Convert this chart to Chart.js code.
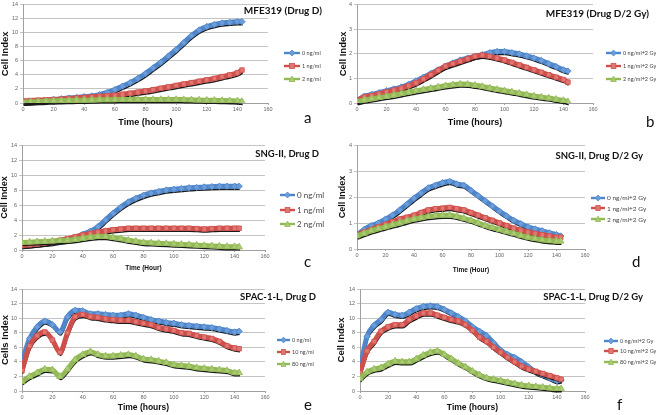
<!DOCTYPE html>
<html>
<head>
<meta charset="utf-8">
<script src="https://cdn.jsdelivr.net/npm/chart.js@4.4.1/dist/chart.umd.min.js"></script>
<style>
    body { margin: 0; background: #fff; font-family: Lato, 'Open Sans', sans-serif; }
    #fig { position: relative; width: 656px; height: 415px; overflow: hidden; }
    #fig canvas { position: absolute; }
    .ttl { position: absolute; font-weight: bold; color: #111; white-space: nowrap; }
    .lg-row { position: absolute; display: flex; align-items: center; color: #444; white-space: nowrap; }
    .lg-row svg { margin-right: 2px; }
    .tag { position: absolute; font-size: 15px; color: #111; line-height: 1; }
</style>
</head>
<body>
<div id="fig"></div>
<script>
// time points (hours)
const hours = [0, 5, 10, 15, 20, 25, 30, 35, 40, 45, 50, 55, 60, 65, 70, 75, 80, 85, 90, 95, 100, 105, 110, 115, 120, 125, 130, 135, 140, 143];

// a: MFE319 (Drug D)
const mfeD0 = [0.1, 0.2, 0.3, 0.4, 0.5, 0.6, 0.7, 0.8, 0.9, 1.0, 1.2, 1.5, 1.9, 2.4, 2.9, 3.5, 4.2, 5.0, 5.8, 6.7, 7.6, 8.6, 9.6, 10.4, 10.9, 11.2, 11.4, 11.5, 11.6, 11.6];
const mfeD1 = [0.3, 0.35, 0.4, 0.45, 0.5, 0.55, 0.65, 0.72, 0.8, 0.88, 0.95, 1.03, 1.1, 1.25, 1.4, 1.55, 1.7, 1.9, 2.1, 2.3, 2.5, 2.7, 2.9, 3.1, 3.3, 3.5, 3.75, 4.0, 4.3, 4.7];
const mfeD2 = [0.1, 0.15, 0.2, 0.25, 0.3, 0.32, 0.35, 0.38, 0.4, 0.42, 0.45, 0.47, 0.48, 0.5, 0.5, 0.5, 0.5, 0.5, 0.5, 0.5, 0.5, 0.48, 0.45, 0.42, 0.4, 0.38, 0.35, 0.32, 0.3, 0.2];

// b: MFE319 (Drug D/2 Gy)
const mfeR0 = [0.1, 0.28, 0.35, 0.42, 0.5, 0.57, 0.65, 0.76, 0.9, 1.05, 1.2, 1.35, 1.5, 1.63, 1.75, 1.83, 1.9, 1.97, 2.05, 2.1, 2.1, 2.05, 2.0, 1.92, 1.83, 1.73, 1.6, 1.48, 1.35, 1.3];
const mfeR1 = [0.1, 0.25, 0.3, 0.37, 0.45, 0.52, 0.6, 0.7, 0.82, 0.98, 1.15, 1.33, 1.5, 1.6, 1.7, 1.8, 1.9, 1.95, 1.9, 1.83, 1.75, 1.65, 1.55, 1.45, 1.35, 1.25, 1.15, 1.05, 0.95, 0.85];
const mfeR2 = [0.05, 0.12, 0.17, 0.22, 0.27, 0.32, 0.38, 0.44, 0.5, 0.55, 0.6, 0.65, 0.7, 0.74, 0.77, 0.76, 0.72, 0.67, 0.61, 0.55, 0.5, 0.45, 0.4, 0.34, 0.28, 0.24, 0.2, 0.15, 0.1, 0.05];

// c: SNG-II, Drug D
const sngD0 = [0.6, 0.7, 0.8, 0.9, 1.0, 1.15, 1.35, 1.65, 2.1, 2.5, 3.1, 4.0, 4.9, 5.7, 6.4, 6.9, 7.3, 7.6, 7.8, 8.0, 8.1, 8.2, 8.3, 8.35, 8.4, 8.45, 8.5, 8.5, 8.5, 8.5];
const sngD1 = [0.6, 0.7, 0.8, 0.95, 1.1, 1.3, 1.5, 1.75, 2.0, 2.2, 2.4, 2.55, 2.7, 2.8, 2.9, 2.9, 2.9, 2.9, 2.9, 2.9, 2.9, 2.9, 2.9, 2.85, 2.8, 2.85, 2.9, 2.9, 2.9, 2.9];
const sngD2 = [1.0, 1.05, 1.1, 1.15, 1.2, 1.25, 1.3, 1.4, 1.55, 1.7, 1.8, 1.8, 1.65, 1.5, 1.3, 1.15, 1.0, 0.95, 0.9, 0.85, 0.8, 0.75, 0.7, 0.65, 0.6, 0.55, 0.5, 0.45, 0.45, 0.4];

// d: SNG-II, Drug D/2 Gy
const sngR0 = [0.55, 0.75, 0.9, 1.0, 1.15, 1.3, 1.5, 1.72, 1.95, 2.15, 2.35, 2.45, 2.55, 2.6, 2.5, 2.45, 2.25, 2.05, 1.85, 1.65, 1.45, 1.27, 1.1, 0.97, 0.85, 0.77, 0.7, 0.62, 0.55, 0.5];
const sngR1 = [0.55, 0.65, 0.75, 0.85, 0.95, 1.05, 1.15, 1.22, 1.3, 1.4, 1.5, 1.55, 1.57, 1.6, 1.55, 1.5, 1.4, 1.3, 1.2, 1.1, 1.0, 0.9, 0.8, 0.72, 0.65, 0.6, 0.55, 0.5, 0.45, 0.45];
const sngR2 = [0.5, 0.6, 0.7, 0.78, 0.85, 0.93, 1.0, 1.08, 1.15, 1.2, 1.25, 1.28, 1.3, 1.3, 1.25, 1.18, 1.1, 1.0, 0.9, 0.82, 0.75, 0.67, 0.6, 0.52, 0.45, 0.4, 0.35, 0.32, 0.3, 0.3];

// e: SPAC-1-L, Drug D
const spacD0 = [4.0, 7.2, 8.8, 9.6, 9.1, 8.1, 10.2, 11.1, 11.0, 10.6, 10.6, 10.5, 10.4, 10.4, 10.6, 10.4, 10.1, 9.8, 9.6, 9.4, 9.3, 9.1, 9.0, 8.9, 8.8, 8.7, 8.5, 8.3, 8.1, 8.2];
const spacD1 = [2.8, 6.2, 7.6, 8.1, 7.0, 5.3, 8.0, 10.2, 10.5, 10.2, 10.1, 9.9, 9.8, 9.7, 9.7, 9.5, 9.3, 9.1, 8.7, 8.5, 8.3, 8.0, 7.9, 7.6, 7.4, 7.2, 6.8, 6.2, 5.9, 5.8];
const spacD2 = [1.3, 2.0, 2.5, 3.0, 2.9, 2.0, 3.0, 4.3, 5.0, 5.4, 5.0, 4.8, 4.8, 4.9, 5.0, 4.8, 4.4, 4.3, 4.1, 3.9, 3.6, 3.5, 3.4, 3.2, 3.1, 3.0, 2.9, 2.8, 2.5, 2.5];

// f: SPAC-1-L, Drug D/2 Gy
const spacR0 = [3.0, 7.5, 9.0, 9.8, 10.8, 10.5, 10.4, 10.8, 11.3, 11.6, 11.7, 11.6, 11.2, 10.7, 10.2, 9.6, 8.8, 8.2, 7.6, 6.6, 5.6, 5.0, 4.6, 4.0, 3.3, 2.6, 2.2, 1.8, 1.4, 1.5];
const spacR1 = [2.5, 5.5, 6.8, 8.2, 8.8, 9.1, 9.1, 9.8, 10.3, 10.7, 10.7, 10.4, 10.1, 9.8, 9.6, 9.1, 8.3, 7.4, 6.8, 6.0, 5.3, 4.6, 4.0, 3.4, 3.0, 2.7, 2.4, 2.1, 1.8, 1.6];
const spacR2 = [1.7, 2.6, 3.0, 3.2, 3.7, 4.1, 4.0, 4.0, 4.4, 4.9, 5.3, 5.5, 5.0, 4.4, 3.8, 3.3, 2.7, 2.2, 1.8, 1.6, 1.4, 1.2, 1.0, 0.8, 0.7, 0.6, 0.5, 0.4, 0.3, 0.3];

// legend labels
const doseLabels = ['0 ng/ml', '1 ng/ml', '2 ng/ml'];
const doseIrrLabels = ['0 ng/ml+2 Gy', '1 ng/ml+2 Gy', '2 ng/ml+2 Gy'];
const spacLabels = ['0 ng/ml', '10 ng/ml', '80 ng/ml'];
const spacIrrLabels = ['0 ng/ml+2 Gy', '10 ng/ml+2 Gy', '80 ng/ml+2 Gy'];

const styles = [
    { line: '#4f86c9', fill: '#6c9ddb', shape: 'rectRot' },
    { line: '#cf4f4b', fill: '#e07773', shape: 'rect' },
    { line: '#93b957', fill: '#a9cb72', shape: 'triangle' }
];

// layout of each panel (page pixels)
const panels = [
    { box: [0, 0, 328, 135], plot: [23, 1, 268, 103], yMax: 14, yStep: 2, yTitle: 'Cell Index', yTitleX: 5, xTitle: 'Time (hours)', xTitleY: 122.5, xSize: 9,
      series: [mfeD0, mfeD1, mfeD2], labels: doseLabels, title: 'MFE319 (Drug D)', titleRight: 322, titleY: 10, titleSize: 10,
      legend: { x: 284, y: 52.7, gap: 13.2, size: 5.5, len: 16 }, tag: ['a', 308, 118] },
    { box: [328, 0, 328, 135], plot: [357, 1, 593, 103], yMax: 4, yStep: 1, yTitle: 'Cell Index', yTitleX: 343, xTitle: 'Time (hours)', xTitleY: 122.5, xSize: 9,
      series: [mfeR0, mfeR1, mfeR2], labels: doseIrrLabels, title: 'MFE319 (Drug D/2 Gy)', titleRight: 649, titleY: 13, titleSize: 10,
      legend: { x: 606, y: 52.7, gap: 13, size: 5.5, len: 15 }, tag: ['b', 650, 122] },
    { box: [0, 135, 328, 140], plot: [22, 145, 265, 250], yMax: 14, yStep: 2, yTitle: 'Cell Index', yTitleX: 5, xTitle: 'Time (Hour)', xTitleY: 268, xSize: 6.5,
      series: [sngD0, sngD1, sngD2], labels: doseLabels, title: 'SNG-II, Drug D', titleRight: 319, titleY: 154, titleSize: 9.5,
      legend: { x: 280, y: 195, gap: 14.5, size: 8, len: 15 }, tag: ['c', 308, 262] },
    { box: [328, 135, 328, 140], plot: [357, 145, 585, 249], yMax: 4, yStep: 1, yTitle: 'Cell Index', yTitleX: 343, xTitle: 'Time (Hour)', xTitleY: 270, xSize: 6.5,
      series: [sngR0, sngR1, sngR2], labels: doseIrrLabels, title: 'SNG-II, Drug D/2 Gy', titleRight: 643, titleY: 155.5, titleSize: 9.5,
      legend: { x: 591, y: 197.7, gap: 10.7, size: 6.5, len: 14 }, tag: ['d', 636, 262] },
    { box: [0, 275, 328, 140], plot: [22, 289, 265, 391], yMax: 14, yStep: 2, yTitle: 'Cells Index', yTitleX: 5, xTitle: 'Time (hours)', xTitleY: 408, xSize: 8.5,
      series: [spacD0, spacD1, spacD2], labels: spacLabels, title: 'SPAC-1-L, Drug D', titleRight: 316, titleY: 297, titleSize: 9.5,
      legend: { x: 277, y: 340, gap: 12, size: 5.5, len: 13 }, tag: ['e', 308, 405] },
    { box: [328, 275, 328, 140], plot: [360, 289, 585, 391], yMax: 14, yStep: 2, yTitle: 'Cell Index', yTitleX: 341, xTitle: 'Time (hours)', xTitleY: 408, xSize: 8.5,
      series: [spacR0, spacR1, spacR2], labels: spacIrrLabels, title: 'SPAC-1-L, Drug D/2 Gy', titleRight: 643, titleY: 297, titleSize: 9.5,
      legend: { x: 604, y: 340.7, gap: 10.5, size: 5.5, len: 14 }, tag: ['f', 621, 405] }
];

// dark trace under each band (Excel marker shadow look)
const shadowLine = {
    id: 'shadowLine',
    beforeDatasetDraw(chart, args) {
        const line = args.meta.dataset;
        const ctx = chart.ctx;
        const a = chart.chartArea;
        ctx.save();
        ctx.beginPath();
        ctx.rect(a.left, a.top, a.right - a.left, a.bottom - a.top + 4);
        ctx.clip();
        ctx.translate(0.7, 3);
        ctx.strokeStyle = '#1a1a1a';
        ctx.lineWidth = 1.5;
        ctx.beginPath();
        line.path(ctx);
        ctx.stroke();
        ctx.restore();
    }
};

function markerSvg(s) {
    let m;
    if (s.shape === 'rectRot') m = `<polygon points="8,1 11,4 8,7 5,4" fill="${s.fill}" stroke="${s.line}" stroke-width="0.8"/>`;
    else if (s.shape === 'rect') m = `<rect x="5.5" y="1.5" width="5" height="5" fill="${s.fill}" stroke="${s.line}" stroke-width="0.8"/>`;
    else m = `<polygon points="8,1 11,6.5 5,6.5" fill="${s.fill}" stroke="${s.line}" stroke-width="0.8"/>`;
    return m;
}

function makePanel(p) {
    const fig = document.getElementById('fig');
    const [bx, by, bw, bh] = p.box;
    const [pl, pt, pr, pb] = p.plot;

    const cv = document.createElement('canvas');
    cv.width = bw;
    cv.height = bh;
    cv.style.left = bx + 'px';
    cv.style.top = by + 'px';
    fig.appendChild(cv);

    const ySize = p.xSize > 8 ? 9.5 : 9;
    const padLeft = p.yTitleX - bx - ySize * 0.6;
    const yWidth = pl - bx - padLeft;
    const xHeight = by + bh - pb;
    const xTitlePad = by + bh - p.xTitleY - p.xSize * 0.6;

    new Chart(cv, {
        type: 'line',
        data: {
            datasets: p.series.map((vals, i) => ({
                label: p.labels[i],
                data: vals.map((v, k) => ({ x: hours[k], y: v })),
                borderColor: styles[i].line,
                backgroundColor: styles[i].fill,
                borderWidth: 5,
                cubicInterpolationMode: 'monotone',
                pointStyle: styles[i].shape,
                pointRadius: i === 2 ? 3.8 : 3.2,
                pointBackgroundColor: styles[i].fill,
                pointBorderColor: styles[i].line,
                pointBorderWidth: 0.8,
                order: 2 - i
            }))
        },
        options: {
            responsive: false,
            animation: false,
            devicePixelRatio: 1,
            layout: { padding: { left: padLeft, right: bx + bw - pr, top: pt - by, bottom: 0 } },
            plugins: { legend: { display: false }, tooltip: { enabled: false } },
            scales: {
                x: {
                    type: 'linear',
                    min: 0,
                    max: 160,
                    ticks: { stepSize: 20, maxRotation: 0, autoSkip: false, color: '#666', font: { size: 5.5 }, padding: 1 },
                    grid: { drawOnChartArea: false, tickLength: 2, color: '#a0a0a0' },
                    border: { color: '#a0a0a0' },
                    title: { display: true, text: p.xTitle, color: '#111', font: { size: p.xSize, weight: 'bold' }, padding: { top: 0, bottom: xTitlePad } },
                    afterFit(s) { s.height = xHeight; s.paddingLeft = 0; s.paddingRight = 0; }
                },
                y: {
                    min: 0,
                    max: p.yMax,
                    ticks: { stepSize: p.yStep, color: '#666', font: { size: 5.5 }, padding: 2 },
                    grid: { color: '#c4c4c4', tickLength: 3 },
                    border: { color: '#a0a0a0' },
                    title: { display: true, text: p.yTitle, color: '#111', font: { size: ySize, weight: 'bold' }, padding: 0 },
                    afterFit(s) { s.width = yWidth; s.paddingTop = 0; s.paddingBottom = 0; }
                }
            }
        },
        plugins: [shadowLine]
    });

    // chart title
    const t = document.createElement('div');
    t.className = 'ttl';
    t.textContent = p.title;
    t.style.fontSize = p.titleSize + 'px';
    t.style.lineHeight = '1';
    t.style.right = (656 - p.titleRight) + 'px';
    t.style.top = (p.titleY - p.titleSize / 2) + 'px';
    fig.appendChild(t);

    // legend
    const lg = p.legend;
    p.labels.forEach((lab, i) => {
        const s = styles[i];
        const row = document.createElement('div');
        row.className = 'lg-row';
        row.style.left = lg.x + 'px';
        row.style.top = (lg.y + i * lg.gap - 4) + 'px';
        row.style.height = '8px';
        row.style.fontSize = lg.size + 'px';
        row.innerHTML = `<svg width="${lg.len}" height="8" viewBox="0 0 16 8" preserveAspectRatio="none">
                <line x1="0" y1="4" x2="16" y2="4" stroke="${s.line}" stroke-width="2.4"/>${markerSvg(s)}</svg><span>${lab}</span>`;
        fig.appendChild(row);
    });

    // panel letter
    const tag = document.createElement('div');
    tag.className = 'tag';
    tag.textContent = p.tag[0];
    tag.style.left = (p.tag[1] - 4) + 'px';
    tag.style.top = (p.tag[2] - 8) + 'px';
    fig.appendChild(tag);
}

panels.forEach(makePanel);
</script>
</body>
</html>
